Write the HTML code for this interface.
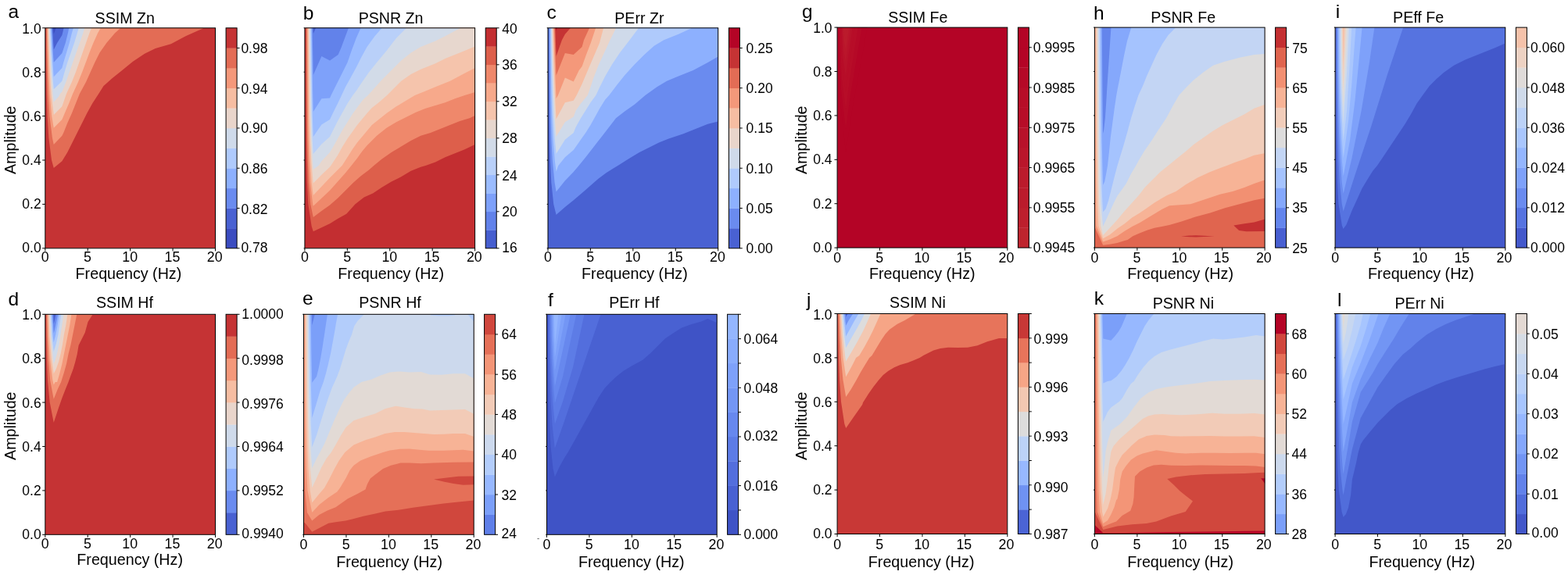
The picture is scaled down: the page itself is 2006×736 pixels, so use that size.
<!DOCTYPE html>
<html lang="en"><head><meta charset="utf-8"><title>Contour maps</title>
<style>html,body{margin:0;padding:0;background:#fff}body{width:2006px;height:736px;overflow:hidden}svg{display:block}text{font-family:"Liberation Sans", Arial, Helvetica, sans-serif;fill:#000}</style></head>
<body>
<svg width="2006" height="736" viewBox="0 0 2006 736">
<rect width="2006" height="736" fill="#fff"/>
<clipPath id="ca"><rect x="57.8" y="35.8" width="217.7" height="282"/></clipPath>
<g clip-path="url(#ca)" shape-rendering="geometricPrecision">
<rect x="57.8" y="35.8" width="217.7" height="282" fill="#c53334"/>
<path d="M58.82 33.8 L58.82 35.8 L59.02 64 L59.3 92.2 L59.75 120.4 L60.61 148.6 L62.39 176.8 L66.01 205 L68.75 215 L68.75 215 L79.38 206.25 L86.25 195 L92.5 182.5 L98.75 170 L105 157.5 L111.25 145 L118.12 132.5 L126.25 120 L132.5 110 L143.75 100 L156.25 90 L170 78.75 L185 68.75 L198.75 61.88 L218.75 56.25 L237.5 46.25 L260 36.25 L260 33.8Z" fill="#e36c55"/>
<path d="M59.84 33.8 L59.84 35.8 L60.25 64 L60.79 92.2 L61.7 120.4 L63.42 148.6 L66.98 176.8 L68.75 185 L68.75 185 L79.38 173.75 L81.25 170 L86.25 157.5 L91.88 145 L96.88 132.5 L101.88 120 L110 105 L115.62 92.5 L121.25 80 L127.5 67.5 L136.25 55 L146.88 42.5 L153.75 36.25 L153.75 33.8Z" fill="#f4987a"/>
<path d="M60.86 33.8 L60.86 35.8 L61.47 64 L62.29 92.2 L63.65 120.4 L66.23 148.6 L68.75 163.75 L68.75 163.75 L79.38 153.12 L82.75 145 L88.12 132.5 L93.12 120 L100 105 L105 92.5 L109.75 80 L114.38 67.5 L119.38 55 L125 42.5 L128.5 36.25 L128.5 33.8Z" fill="#f6bda2"/>
<path d="M61.87 33.8 L61.87 35.8 L62.7 64 L63.79 92.2 L65.6 120.4 L68.75 146.88 L68.75 146.88 L79.38 136.25 L85 120 L91.88 105 L96.88 92.5 L101.25 80 L105.62 67.5 L110 55 L114.38 42.5 L116.88 36.25 L116.88 33.8Z" fill="#e9d5cb"/>
<path d="M62.89 33.8 L62.89 35.8 L63.92 64 L65.28 92.2 L67.55 120.4 L68.75 130.63 L68.75 130.62 L75 123.75 L76.88 120 L79.38 117.5 L84.38 105 L88.75 92.5 L93.12 80 L97.5 67.5 L101.88 55 L106.25 42.5 L108.12 36.25 L108.12 33.8Z" fill="#cfdaea"/>
<path d="M63.91 33.8 L63.91 35.8 L65.14 64 L66.78 92.2 L68.75 114 L69 114 L79.38 103.75 L82.5 92.5 L86.25 80 L90.62 67.5 L95 55 L98.75 42.5 L100.62 36.25 L100.62 33.8Z" fill="#afcafc"/>
<path d="M64.93 33.8 L64.93 35.8 L66.37 64 L68.28 92.2 L68.75 98.13 L69 98.12 L79.38 86.88 L81.25 80 L85 67.5 L88.75 55 L91.88 42.5 L93.75 36.25 L93.75 33.8Z" fill="#8db0fe"/>
<path d="M65.95 33.8 L65.95 35.8 L67.59 64 L68.75 79.38 L69 79.38 L79.38 68.12 L83.75 55 L86.88 42.5 L88.12 36.25 L88.12 33.8Z" fill="#6a8bef"/>
<path d="M66.97 33.8 L66.97 35.8 L68.75 63.13 L69 63.12 L73.12 55 L79.38 45 L80 42.5 L81.5 36.25 L81.5 33.8Z" fill="#4961d2"/>
<path d="M67.99 33.8 L67.99 35.8 L68.75 43.6 L68.8 43.6 L71.6 35.8 L71.6 33.8Z" fill="#3b4cc0"/>
</g>
<rect x="57.8" y="35.8" width="217.7" height="282" fill="none" stroke="#000" stroke-width="1"/>
<path d="M57.8 317.8 v3.6 M112.22 317.8 v3.6 M166.65 317.8 v3.6 M221.07 317.8 v3.6 M275.5 317.8 v3.6 M57.8 317.8 h-3.6 M57.8 261.4 h-3.6 M57.8 205 h-3.6 M57.8 148.6 h-3.6 M57.8 92.2 h-3.6 M57.8 35.8 h-3.6" stroke="#000" stroke-width="1" fill="none"/>
<g font-size="17.8" text-anchor="middle">
<text x="57.8" y="335.4">0</text>
<text x="112.02" y="335.4">5</text>
<text x="166.25" y="335.4">10</text>
<text x="220.47" y="335.4">15</text>
<text x="274.7" y="335.4">20</text>
</g>
<g font-size="17.5" text-anchor="end">
<text x="52.7" y="323.4">0.0</text>
<text x="52.7" y="267.28">0.2</text>
<text x="52.7" y="211.16">0.4</text>
<text x="52.7" y="155.04">0.6</text>
<text x="52.7" y="98.92">0.8</text>
<text x="52.7" y="42.8">1.0</text>
</g>
<rect x="289.1" y="292.16" width="14" height="25.64" fill="#3b4cc0"/>
<rect x="289.1" y="266.53" width="14" height="25.94" fill="#4961d2"/>
<rect x="289.1" y="240.89" width="14" height="25.94" fill="#6a8bef"/>
<rect x="289.1" y="215.25" width="14" height="25.94" fill="#8db0fe"/>
<rect x="289.1" y="189.62" width="14" height="25.94" fill="#afcafc"/>
<rect x="289.1" y="163.98" width="14" height="25.94" fill="#cfdaea"/>
<rect x="289.1" y="138.35" width="14" height="25.94" fill="#e9d5cb"/>
<rect x="289.1" y="112.71" width="14" height="25.94" fill="#f6bda2"/>
<rect x="289.1" y="87.07" width="14" height="25.94" fill="#f4987a"/>
<rect x="289.1" y="61.44" width="14" height="25.94" fill="#e36c55"/>
<rect x="289.1" y="35.8" width="14" height="25.94" fill="#c53334"/>
<rect x="289.1" y="35.8" width="14" height="282" fill="none" stroke="#000" stroke-width="1"/>
<g font-size="17.5">
<text x="308.4" y="322.9">0.78</text>
<text x="308.4" y="273.83">0.82</text>
<text x="308.4" y="221.75">0.86</text>
<text x="308.4" y="170.48">0.90</text>
<text x="308.4" y="119.51">0.94</text>
<text x="308.4" y="68.34">0.98</text>
</g>
<path d="M303.1 317.8 h3.4 M303.1 266.53 h3.4 M303.1 215.25 h3.4 M303.1 163.98 h3.4 M303.1 112.71 h3.4 M303.1 61.44 h3.4" stroke="#000" stroke-width="1" fill="none"/>
<text x="121.6" y="29.5" font-size="19.6">SSIM Zn</text>
<text x="10.6" y="23" font-size="24.5">a</text>
<text x="96.6" y="357.4" font-size="19.7">Frequency (Hz)</text>
<text transform="translate(20.4 223) rotate(-90)" font-size="19.7">Amplitude</text>
<clipPath id="cb"><rect x="389.9" y="35.8" width="217.7" height="282"/></clipPath>
<g clip-path="url(#cb)" shape-rendering="geometricPrecision">
<rect x="389.9" y="35.8" width="217.7" height="282" fill="#c32e31"/>
<path d="M391.29 33.8 L391.29 35.8 L391.37 64 L391.44 92.2 L391.53 120.4 L391.64 148.6 L391.83 176.8 L392.19 205 L392.82 233.2 L394.33 261.4 L398.62 289.6 L400.75 296.25 L400.75 296.25 L411.38 291.25 L422 286.25 L432 280 L443.25 273.75 L454.5 261.25 L465.75 252.5 L477 247.5 L488.25 240 L500.75 232.5 L513.25 226.25 L525.75 218.75 L538.25 213.75 L544.5 211.88 L557 207.5 L569.5 201.25 L582 196.25 L594.5 191.25 L607.62 185 L609.6 185 L609.6 33.8Z" fill="#dd5f4b"/>
<path d="M392.21 33.8 L392.21 35.8 L392.34 64 L392.47 92.2 L392.62 120.4 L392.81 148.6 L393.12 176.8 L393.72 205 L394.77 233.2 L397.29 261.4 L400.75 278.12 L400.75 278.12 L411.38 270 L422 262.5 L432 253.75 L442 243.75 L452 233.75 L462 225 L472 217.5 L478.25 211.88 L488.25 203.75 L500.75 195 L513.25 187.5 L525.75 180 L538.25 173.75 L550.75 170 L563.25 165 L575.75 160 L588.25 155 L600.75 151.25 L607.62 148.12 L609.6 148.12 L609.6 33.8Z" fill="#ef886b"/>
<path d="M393.13 33.8 L393.13 35.8 L393.32 64 L393.49 92.2 L393.71 120.4 L393.97 148.6 L394.41 176.8 L395.25 205 L396.72 233.2 L400.24 261.4 L400.75 263.75 L400.75 263.75 L411.38 253.75 L422 243.75 L432 232.5 L442 221.25 L449.5 211.88 L457 202.5 L463.25 193.75 L469.5 186.25 L475.75 180 L482 173.75 L494.5 163.75 L507 156.25 L519.5 150 L532 143.75 L544.5 138.75 L557 135 L569.5 131.25 L582 126.25 L594.5 121.88 L607.62 118.12 L609.6 118.12 L609.6 33.8Z" fill="#f7a98b"/>
<path d="M394.06 33.8 L394.06 35.8 L394.3 64 L394.52 92.2 L394.79 120.4 L395.13 148.6 L395.7 176.8 L396.78 205 L398.67 233.2 L400.75 250 L400.75 250 L411.38 238.75 L422 227.5 L432 217.5 L437.62 211.88 L444.5 201.25 L450.75 191.25 L457 182.5 L463.25 175 L469.5 167.5 L475.75 160 L482 155 L494.5 145 L507 136.25 L519.5 128.75 L530.75 121.88 L542 117.5 L557 111.25 L575.75 103.75 L594.5 93.75 L607.62 86.88 L609.6 86.88 L609.6 33.8Z" fill="#f5c4ac"/>
<path d="M394.98 33.8 L394.98 35.8 L395.28 64 L395.55 92.2 L395.88 120.4 L396.3 148.6 L396.99 176.8 L398.31 205 L400.62 233.2 L400.75 234.38 L400.75 234.38 L411.38 223.75 L422 213.75 L423.25 211.88 L432 198.75 L438.25 187.5 L444.5 177.5 L450.75 168.75 L457 160 L463.25 152.5 L469.5 145 L475.75 138.12 L484.5 131.25 L495.12 121.88 L504.5 112.5 L513.25 103.75 L525.75 95 L538.25 88.75 L557 81.25 L569.5 75 L588.25 67.5 L607.62 59.38 L609.6 59.38 L609.6 33.8Z" fill="#e7d7ce"/>
<path d="M395.9 33.8 L395.9 35.8 L396.26 64 L396.58 92.2 L396.97 120.4 L397.46 148.6 L398.28 176.8 L399.84 205 L400.75 216.88 L400.75 216.88 L407.62 211.88 L411.38 206.25 L422 195 L425.75 188.75 L432 177.5 L438.25 166.25 L444.5 156.25 L450.75 146.25 L457 137.5 L464.5 127.5 L470.75 121.88 L477 115 L488.25 102.5 L500.75 90 L513.25 77.5 L525.75 67.5 L538.25 60 L557 52.5 L569.5 46.25 L588.25 36.25 L588.25 33.8Z" fill="#d2dbe8"/>
<path d="M396.83 33.8 L396.83 35.8 L397.23 64 L397.6 92.2 L398.06 120.4 L398.62 148.6 L399.57 176.8 L400.75 196.88 L400.75 196.88 L411.38 184.38 L422 175 L425.75 167.5 L432 155 L438.25 143.75 L444.5 132.5 L451.38 121.88 L455.75 116.25 L463.25 105 L472 92.5 L482 80 L494.5 65 L507 48.75 L519.5 36.25 L519.5 33.8Z" fill="#b9d0f9"/>
<path d="M397.75 33.8 L397.75 35.8 L398.21 64 L398.63 92.2 L399.14 120.4 L399.79 148.6 L400.75 175 L400.75 175 L411.38 159.38 L422 153.12 L425.75 145 L432 132.5 L437 121.88 L442 111.25 L448.25 100 L455.75 86.25 L462 73.75 L469.5 60 L479.5 46.25 L488.25 36.25 L488.25 33.8Z" fill="#9bbcff"/>
<path d="M398.67 33.8 L398.67 35.8 L399.19 64 L399.66 92.2 L400.23 120.4 L400.75 143.12 L400.75 143.12 L411.38 126.25 L422 125.62 L423.88 121.25 L432 105 L438.25 92.5 L444.5 80 L450.12 63.75 L455.75 48.75 L461.38 36.25 L461.38 33.8Z" fill="#7ea1fa"/>
<path d="M399.6 33.8 L399.6 35.8 L400.17 64 L400.68 92.2 L400.75 95.63 L401 95.62 L411.38 71.88 L422 77.5 L432.62 70 L436.38 61.25 L445.75 36.25 L445.75 33.8Z" fill="#6282ea"/>
<path d="M400.52 33.8 L400.52 35.8 L400.75 42.5 L401 42.5 L404 35.8 L404 33.8Z" fill="#465ecf"/>
</g>
<rect x="389.9" y="35.8" width="217.7" height="282" fill="none" stroke="#000" stroke-width="1"/>
<path d="M389.9 317.8 v3.6 M444.32 317.8 v3.6 M498.75 317.8 v3.6 M553.17 317.8 v3.6 M607.6 317.8 v3.6 M389.9 317.8 h-1.3 M389.9 261.4 h-1.3 M389.9 205 h-1.3 M389.9 148.6 h-1.3 M389.9 92.2 h-1.3 M389.9 35.8 h-1.3" stroke="#000" stroke-width="1" fill="none"/>
<g font-size="17.8" text-anchor="middle">
<text x="389.9" y="335.4">0</text>
<text x="444.12" y="335.4">5</text>
<text x="498.35" y="335.4">10</text>
<text x="552.57" y="335.4">15</text>
<text x="606.8" y="335.4">20</text>
</g>
<rect x="621.2" y="294.3" width="14" height="23.5" fill="#465ecf"/>
<rect x="621.2" y="270.8" width="14" height="23.8" fill="#6282ea"/>
<rect x="621.2" y="247.3" width="14" height="23.8" fill="#7ea1fa"/>
<rect x="621.2" y="223.8" width="14" height="23.8" fill="#9bbcff"/>
<rect x="621.2" y="200.3" width="14" height="23.8" fill="#b9d0f9"/>
<rect x="621.2" y="176.8" width="14" height="23.8" fill="#d2dbe8"/>
<rect x="621.2" y="153.3" width="14" height="23.8" fill="#e7d7ce"/>
<rect x="621.2" y="129.8" width="14" height="23.8" fill="#f5c4ac"/>
<rect x="621.2" y="106.3" width="14" height="23.8" fill="#f7a98b"/>
<rect x="621.2" y="82.8" width="14" height="23.8" fill="#ef886b"/>
<rect x="621.2" y="59.3" width="14" height="23.8" fill="#dd5f4b"/>
<rect x="621.2" y="35.8" width="14" height="23.8" fill="#c32e31"/>
<rect x="621.2" y="35.8" width="14" height="282" fill="none" stroke="#000" stroke-width="1"/>
<g font-size="17.5">
<text x="642.3" y="323.2">16</text>
<text x="642.3" y="277.3">20</text>
<text x="642.3" y="231">24</text>
<text x="642.3" y="183.3">28</text>
<text x="642.3" y="136.3">32</text>
<text x="642.3" y="89.3">36</text>
<text x="642.3" y="43.3">40</text>
</g>
<path d="M635.2 317.8 h3.4 M635.2 270.8 h3.4 M635.2 223.8 h3.4 M635.2 176.8 h3.4 M635.2 129.8 h3.4 M635.2 82.8 h3.4 M635.2 35.8 h3.4" stroke="#000" stroke-width="1" fill="none"/>
<text x="458.7" y="29.5" font-size="19.6">PSNR Zn</text>
<text x="387.7" y="24.8" font-size="24.5">b</text>
<text x="432.3" y="357.4" font-size="19.7">Frequency (Hz)</text>
<clipPath id="cc"><rect x="701" y="35.8" width="217.7" height="282"/></clipPath>
<g clip-path="url(#cc)" shape-rendering="geometricPrecision">
<rect x="701" y="35.8" width="217.7" height="282" fill="#4961d2"/>
<path d="M702.03 33.8 L702.03 35.8 L702.14 64 L702.29 92.2 L702.47 120.4 L702.72 148.6 L703.16 176.8 L703.91 205 L705.27 233.2 L708.25 261.4 L711.6 275 L711.5 275 L722.88 265 L733.75 256.25 L745.5 246.25 L755.5 237.5 L765.5 228.75 L775.5 221.25 L785.5 215 L790.5 211.88 L805.5 202.5 L818 195 L830.5 188.75 L843 182.5 L855.5 177.5 L874.25 171.25 L893 163.75 L905.5 158.75 L918.62 155.62 L920.7 155.62 L920.7 33.8Z" fill="#6a8bef"/>
<path d="M703.05 33.8 L703.05 35.8 L703.29 64 L703.59 92.2 L703.94 120.4 L704.45 148.6 L705.31 176.8 L706.81 205 L709.53 233.2 L711.6 245.62 L711.5 245.62 L722.88 231.25 L733.75 220 L740.5 211.88 L749.25 201.25 L758 190 L766.75 178.75 L775.5 167.5 L788 151.25 L799.25 142.5 L811.75 133.75 L825.5 121.88 L840.5 111.25 L853 103.75 L868 97.5 L886.75 90 L905.5 80 L918.62 72.5 L920.7 72.5 L920.7 33.8Z" fill="#8db0fe"/>
<path d="M704.08 33.8 L704.08 35.8 L704.43 64 L704.88 92.2 L705.42 120.4 L706.17 148.6 L707.47 176.8 L709.72 205 L711.6 220 L711.5 220 L714.25 211.88 L722.88 201.25 L733.75 191.88 L743 178.75 L749.25 170 L755.5 160 L761.75 148.75 L768 137.5 L774.25 127.5 L779.25 121.88 L789.25 108.75 L799.25 96.25 L811.75 82.5 L824.25 70 L836.75 58.75 L849.25 51.25 L868 43.75 L884.25 36.25 L884.25 33.8Z" fill="#afcafc"/>
<path d="M705.11 33.8 L705.11 35.8 L705.58 64 L706.18 92.2 L706.89 120.4 L707.9 148.6 L709.62 176.8 L711.6 196.88 L711.5 196.88 L722.88 178.75 L733.75 170 L736.75 162.5 L743 151.25 L749.25 141.25 L755.5 131.25 L762.38 121.88 L766.75 112.5 L774.25 97.5 L783 82.5 L793 67.5 L805.5 51.25 L816.75 36.25 L816.75 33.8Z" fill="#cfdaea"/>
<path d="M706.14 33.8 L706.14 35.8 L706.72 64 L707.47 92.2 L708.36 120.4 L709.62 148.6 L711.6 175 L711.5 175 L722.88 156.25 L733.75 149.38 L736.75 141.25 L743 132.5 L751.75 121.88 L754.25 115 L759.25 100 L765.5 83.75 L773 67.5 L780.5 51.25 L788 36.25 L788 33.8Z" fill="#e9d5cb"/>
<path d="M707.16 33.8 L707.16 35.8 L707.87 64 L708.76 92.2 L709.83 120.4 L711.34 148.6 L711.6 152.5 L711.5 152.5 L722.88 131.25 L733.75 128.75 L737.62 121.88 L744.62 107.5 L752 90 L759.5 72.5 L767 55 L772 36.25 L772 33.8Z" fill="#f6bda2"/>
<path d="M708.19 33.8 L708.19 35.8 L709.01 64 L710.06 92.2 L711.31 120.4 L711.6 126.25 L711.5 126.25 L713.88 121.88 L722.88 99.38 L733.75 104.38 L740.75 90 L744.62 85 L749.5 71.25 L755.75 55 L762 36.25 L762 33.8Z" fill="#f4987a"/>
<path d="M709.22 33.8 L709.22 35.8 L710.16 64 L711.35 92.2 L711.6 96.88 L711.38 96.88 L722.88 68.12 L733.75 70 L744.62 60 L747 51.25 L753.88 36.25 L753.88 33.8Z" fill="#e36c55"/>
<path d="M710.24 33.8 L710.24 35.8 L711.3 64 L711.6 72.5 L711.38 72.5 L718.88 51.25 L722.88 43.75 L729.5 36.25 L729.5 33.8Z" fill="#c53334"/>
<path d="M711.27 33.8 L711.27 35.8 L711.6 40 L711.38 40 L712.62 35.62 L712.62 33.8Z" fill="#b40426"/>
</g>
<rect x="701" y="35.8" width="217.7" height="282" fill="none" stroke="#000" stroke-width="1"/>
<path d="M701 317.8 v3.6 M755.42 317.8 v3.6 M809.85 317.8 v3.6 M864.28 317.8 v3.6 M918.7 317.8 v3.6 M701 317.8 h-1.3 M701 261.4 h-1.3 M701 205 h-1.3 M701 148.6 h-1.3 M701 92.2 h-1.3 M701 35.8 h-1.3" stroke="#000" stroke-width="1" fill="none"/>
<g font-size="17.8" text-anchor="middle">
<text x="701" y="335.4">0</text>
<text x="755.22" y="335.4">5</text>
<text x="809.45" y="335.4">10</text>
<text x="863.68" y="335.4">15</text>
<text x="917.9" y="335.4">20</text>
</g>
<rect x="932.4" y="292.16" width="14" height="25.64" fill="#4961d2"/>
<rect x="932.4" y="266.53" width="14" height="25.94" fill="#6a8bef"/>
<rect x="932.4" y="240.89" width="14" height="25.94" fill="#8db0fe"/>
<rect x="932.4" y="215.25" width="14" height="25.94" fill="#afcafc"/>
<rect x="932.4" y="189.62" width="14" height="25.94" fill="#cfdaea"/>
<rect x="932.4" y="163.98" width="14" height="25.94" fill="#e9d5cb"/>
<rect x="932.4" y="138.35" width="14" height="25.94" fill="#f6bda2"/>
<rect x="932.4" y="112.71" width="14" height="25.94" fill="#f4987a"/>
<rect x="932.4" y="87.07" width="14" height="25.94" fill="#e36c55"/>
<rect x="932.4" y="61.44" width="14" height="25.94" fill="#c53334"/>
<rect x="932.4" y="35.8" width="14" height="25.94" fill="#b40426"/>
<rect x="932.4" y="35.8" width="14" height="282" fill="none" stroke="#000" stroke-width="1"/>
<g font-size="17.5">
<text x="954.6" y="324.3">0.00</text>
<text x="954.6" y="273.03">0.05</text>
<text x="954.6" y="221.75">0.10</text>
<text x="954.6" y="170.48">0.15</text>
<text x="954.6" y="119.21">0.20</text>
<text x="954.6" y="67.94">0.25</text>
</g>
<path d="M946.4 317.8 h3.4 M946.4 266.53 h3.4 M946.4 215.25 h3.4 M946.4 163.98 h3.4 M946.4 112.71 h3.4 M946.4 61.44 h3.4" stroke="#000" stroke-width="1" fill="none"/>
<text x="786.3" y="29.9" font-size="19.6">PErr Zr</text>
<text x="699.5" y="23.9" font-size="24.5">c</text>
<text x="744.1" y="357.4" font-size="19.7">Frequency (Hz)</text>
<clipPath id="cg"><rect x="1071.1" y="35.1" width="217.7" height="282"/></clipPath>
<g clip-path="url(#cg)" shape-rendering="geometricPrecision">
<rect x="1071.1" y="35.1" width="217.7" height="282" fill="#b40426"/>
<path d="M1072 33.1 L1075 131.04 L1082 195 L1090.4 139.03 L1110 33.1Z" fill="#b40426"/>
<path d="M1073.2 33.1 L1075.84 113.04 L1082 165 L1088.3 119.53 L1103 33.1Z" fill="#b50927"/>
<path d="M1074.4 33.1 L1076.68 98.04 L1082 140 L1086.8 103.28 L1098 33.1Z" fill="#b70d28"/>
<path d="M1075.5 33.1 L1077.45 84.84 L1082 118 L1085.6 88.98 L1094 33.1Z" fill="#b70d28"/>
<path d="M1076.6 33.1 L1078.22 72.84 L1082 98 L1084.7 75.98 L1091 33.1Z" fill="#b8122a"/>
<path d="M1077.6 33.1 L1078.92 62.04 L1082 80 L1083.95 64.28 L1088.5 33.1Z" fill="#ba162b"/>
<path d="M1078.6 33.1 L1079.62 52.44 L1082 64 L1083.35 53.89 L1086.5 33.1Z" fill="#bb1b2c"/>
<path d="M1079.6 33.1 L1080.32 44.04 L1082 50 L1082.9 44.79 L1085 33.1Z" fill="#bb1b2c"/>
</g>
<rect x="1071.1" y="35.1" width="217.7" height="282" fill="none" stroke="#000" stroke-width="1"/>
<path d="M1071.1 317.1 v3.6 M1125.52 317.1 v3.6 M1179.95 317.1 v3.6 M1234.38 317.1 v3.6 M1288.8 317.1 v3.6 M1071.1 317.1 h-3.6 M1071.1 260.7 h-3.6 M1071.1 204.3 h-3.6 M1071.1 147.9 h-3.6 M1071.1 91.5 h-3.6 M1071.1 35.1 h-3.6" stroke="#000" stroke-width="1" fill="none"/>
<g font-size="17.8" text-anchor="middle">
<text x="1071.1" y="335.8">0</text>
<text x="1125.19" y="335.8">5</text>
<text x="1179.29" y="335.8">10</text>
<text x="1233.38" y="335.8">15</text>
<text x="1287.48" y="335.8">20</text>
</g>
<g font-size="17.5" text-anchor="end">
<text x="1064.6" y="322.7">0.0</text>
<text x="1064.6" y="266.58">0.2</text>
<text x="1064.6" y="210.46">0.4</text>
<text x="1064.6" y="154.34">0.6</text>
<text x="1064.6" y="98.22">0.8</text>
<text x="1064.6" y="42.1">1.0</text>
</g>
<rect x="1302.4" y="291.46" width="14" height="25.64" fill="#be242e"/>
<rect x="1302.4" y="265.83" width="14" height="25.94" fill="#bd1f2d"/>
<rect x="1302.4" y="240.19" width="14" height="25.94" fill="#bb1b2c"/>
<rect x="1302.4" y="214.55" width="14" height="25.94" fill="#bb1b2c"/>
<rect x="1302.4" y="188.92" width="14" height="25.94" fill="#ba162b"/>
<rect x="1302.4" y="163.28" width="14" height="25.94" fill="#b8122a"/>
<rect x="1302.4" y="137.65" width="14" height="25.94" fill="#b70d28"/>
<rect x="1302.4" y="112.01" width="14" height="25.94" fill="#b70d28"/>
<rect x="1302.4" y="86.37" width="14" height="25.94" fill="#b50927"/>
<rect x="1302.4" y="60.74" width="14" height="25.94" fill="#b40426"/>
<rect x="1302.4" y="35.1" width="14" height="25.94" fill="#b40426"/>
<rect x="1302.4" y="35.1" width="14" height="282" fill="none" stroke="#000" stroke-width="1"/>
<g font-size="17.5">
<text x="1321.8" y="322.9">0.9945</text>
<text x="1321.8" y="272.33">0.9955</text>
<text x="1321.8" y="221.05">0.9965</text>
<text x="1321.8" y="169.78">0.9975</text>
<text x="1321.8" y="118.51">0.9985</text>
<text x="1321.8" y="67.24">0.9995</text>
</g>
<path d="M1316.4 317.1 h3.4 M1316.4 265.83 h3.4 M1316.4 214.55 h3.4 M1316.4 163.28 h3.4 M1316.4 112.01 h3.4 M1316.4 60.74 h3.4" stroke="#000" stroke-width="1" fill="none"/>
<text x="1136.2" y="28.5" font-size="19.6">SSIM Fe</text>
<text x="1025.9" y="22.6" font-size="24.5">g</text>
<text x="1112" y="356.9" font-size="19.7">Frequency (Hz)</text>
<text transform="translate(1032 223) rotate(-90)" font-size="19.7">Amplitude</text>
<clipPath id="ch"><rect x="1400.4" y="35.1" width="217.7" height="282"/></clipPath>
<g clip-path="url(#ch)" shape-rendering="geometricPrecision">
<rect x="1400.4" y="35.1" width="217.7" height="282" fill="#e0654f"/>
<path d="M1397.19 33.1 L1397.19 35.1 L1400.4 290.26 L1411.1 313.75 L1411.22 313.75 L1419.79 312.8 L1429.3 310.89 L1438.82 308.04 L1442.62 307.09 L1449.28 302.33 L1457.85 298.53 L1467.36 294.72 L1476.88 291.86 L1486.39 289.96 L1496 288.06 L1510.75 283.75 L1529.5 277.5 L1548.25 272.5 L1567 266.25 L1585.75 261.25 L1604.5 256.25 L1617.62 253.75 L1620.1 253.75 L1620.1 33.1Z" fill="#f29072"/>
<path d="M1400.7 33.1 L1400.7 35.1 L1400.81 63.3 L1400.91 91.5 L1401.02 119.7 L1401.14 147.9 L1401.27 176.1 L1401.43 204.3 L1401.62 232.5 L1401.92 260.7 L1402.59 288.9 L1411.1 309.47 L1411.22 309.47 L1419.79 306.61 L1429.3 302.33 L1438.82 295.67 L1448.33 289.96 L1457.85 285.2 L1467.36 279.5 L1476.88 273.79 L1486.39 268.08 L1496 263.32 L1523.25 261.25 L1542 255 L1560.75 248.75 L1577 245 L1592 240 L1604.5 235 L1617.62 230.62 L1620.1 230.62 L1620.1 33.1Z" fill="#f7b396"/>
<path d="M1402.21 33.1 L1402.21 35.1 L1402.34 63.3 L1402.47 91.5 L1402.61 119.7 L1402.76 147.9 L1402.93 176.1 L1403.19 204.3 L1403.49 232.5 L1404.05 260.7 L1405.4 288.9 L1411.1 305.19 L1411.22 305.19 L1419.79 300.43 L1429.3 292.82 L1438.82 286.16 L1448.33 278.54 L1457.85 272.84 L1467.36 266.18 L1476.88 259.51 L1486.39 253.81 L1493.05 250 L1504.5 245 L1517 236.25 L1532 227.5 L1548.25 220 L1564.5 213.75 L1569.5 211.88 L1579.5 208.12 L1592 203.75 L1604.5 198.75 L1617.62 196.25 L1620.1 196.25 L1620.1 33.1Z" fill="#f1cdba"/>
<path d="M1403.72 33.1 L1403.72 35.1 L1403.87 63.3 L1404.03 91.5 L1404.2 119.7 L1404.38 147.9 L1404.59 176.1 L1404.95 204.3 L1405.36 232.5 L1406.19 260.7 L1408.2 288.9 L1411.1 300.9 L1411.22 300.9 L1419.79 291.86 L1429.3 281.4 L1438.82 269.98 L1448.33 259.51 L1456.89 250 L1464.5 240 L1474.5 230 L1484.5 220 L1494.5 211.88 L1504.5 203.75 L1517 193.75 L1527 185 L1539.5 176.25 L1552 167.5 L1564.5 160 L1577 153.75 L1592 146.25 L1604.5 138.75 L1617.62 134 L1620.1 134 L1620.1 33.1Z" fill="#dddcdc"/>
<path d="M1405.22 33.1 L1405.22 35.1 L1405.41 63.3 L1405.6 91.5 L1405.79 119.7 L1406 147.9 L1406.24 176.1 L1406.71 204.3 L1407.23 232.5 L1408.32 260.7 L1411.01 288.9 L1411.1 289.49 L1411.22 289.49 L1415.03 281.4 L1419.79 270.93 L1424.54 260.47 L1429.3 250.95 L1440.75 235 L1447 222.5 L1453.25 211.88 L1457 205 L1464.5 192.5 L1473.25 180 L1482 166.25 L1492 151.25 L1500.75 135 L1508.25 121.88 L1517 112.5 L1527 102.5 L1539.5 92.5 L1552 83.75 L1567 78.75 L1585.75 73.75 L1604.5 70 L1617.62 69 L1620.1 69 L1620.1 33.1Z" fill="#c3d5f4"/>
<path d="M1406.73 33.1 L1406.73 35.1 L1406.94 63.3 L1407.16 91.5 L1407.38 119.7 L1407.61 147.9 L1407.9 176.1 L1408.47 204.3 L1409.1 232.5 L1410.45 260.7 L1411.1 271.25 L1411 271.25 L1414.5 267.5 L1418.25 256.25 L1422 241.25 L1425.75 226.25 L1429.5 211.88 L1432 203.75 L1437 187.5 L1442 170 L1447 151.25 L1452 135 L1456.38 121.88 L1462 110 L1467 97.5 L1473.25 83.75 L1479.5 70 L1487 56.25 L1494.5 45 L1503.25 36.25 L1503.25 33.1Z" fill="#a5c3fe"/>
<path d="M1408.24 33.1 L1408.24 35.1 L1408.47 63.3 L1408.72 91.5 L1408.97 119.7 L1409.23 147.9 L1409.56 176.1 L1410.23 204.3 L1410.98 232.5 L1411.1 236.88 L1411 236.88 L1413.25 232.5 L1415.12 222.5 L1417 211.88 L1418.88 195 L1420.75 176.25 L1423.25 157.5 L1425.75 138.75 L1428.25 121.88 L1429.5 115 L1432 102.5 L1435.12 86.25 L1438.25 70 L1442 52.5 L1447 36.25 L1447 33.1Z" fill="#85a8fc"/>
<path d="M1409.74 33.1 L1409.74 35.1 L1410.01 63.3 L1410.28 91.5 L1410.56 119.7 L1410.85 147.9 L1411.1 171.25 L1411 171.25 L1412 167.5 L1413.88 151.25 L1415.12 132.5 L1415.75 121.88 L1416.38 111.25 L1417.62 92.5 L1418.88 73.75 L1420.12 55 L1421.38 36.25 L1421.38 33.1Z" fill="#6485ec"/>
<path d="M1618.25 280.62 L1604.5 284.38 L1592 286.25 L1578.25 288.5 L1585.12 295 L1594.5 296.25 L1618.25 296Z" fill="#c43032"/>
<path d="M1511 302.4 L1522 301.6 L1530 301.3 L1540 301.8 L1554 302.4 L1540 303 L1530 303.5 L1522 303.2Z" fill="#c43032"/>
</g>
<rect x="1400.4" y="35.1" width="217.7" height="282" fill="none" stroke="#000" stroke-width="1"/>
<path d="M1400.4 317.1 v3.6 M1454.83 317.1 v3.6 M1509.25 317.1 v3.6 M1563.68 317.1 v3.6 M1618.1 317.1 v3.6 M1400.4 317.1 h-1.3 M1400.4 260.7 h-1.3 M1400.4 204.3 h-1.3 M1400.4 147.9 h-1.3 M1400.4 91.5 h-1.3 M1400.4 35.1 h-1.3" stroke="#000" stroke-width="1" fill="none"/>
<g font-size="17.8" text-anchor="middle">
<text x="1400.4" y="335.8">0</text>
<text x="1454.5" y="335.8">5</text>
<text x="1508.59" y="335.8">10</text>
<text x="1562.69" y="335.8">15</text>
<text x="1616.78" y="335.8">20</text>
</g>
<rect x="1631.6" y="291.46" width="14" height="25.64" fill="#485fd1"/>
<rect x="1631.6" y="265.83" width="14" height="25.94" fill="#6485ec"/>
<rect x="1631.6" y="240.19" width="14" height="25.94" fill="#85a8fc"/>
<rect x="1631.6" y="214.55" width="14" height="25.94" fill="#a5c3fe"/>
<rect x="1631.6" y="188.92" width="14" height="25.94" fill="#c3d5f4"/>
<rect x="1631.6" y="163.28" width="14" height="25.94" fill="#dddcdc"/>
<rect x="1631.6" y="137.65" width="14" height="25.94" fill="#f1cdba"/>
<rect x="1631.6" y="112.01" width="14" height="25.94" fill="#f7b396"/>
<rect x="1631.6" y="86.37" width="14" height="25.94" fill="#f29072"/>
<rect x="1631.6" y="60.74" width="14" height="25.94" fill="#e0654f"/>
<rect x="1631.6" y="35.1" width="14" height="25.94" fill="#c43032"/>
<rect x="1631.6" y="35.1" width="14" height="282" fill="none" stroke="#000" stroke-width="1"/>
<g font-size="17.5">
<text x="1653.2" y="323.6">25</text>
<text x="1653.2" y="272.33">35</text>
<text x="1653.2" y="221.05">45</text>
<text x="1653.2" y="169.78">55</text>
<text x="1653.2" y="118.91">65</text>
<text x="1653.2" y="68.04">75</text>
</g>
<path d="M1645.6 317.1 h3.4 M1645.6 265.83 h3.4 M1645.6 214.55 h3.4 M1645.6 163.28 h3.4 M1645.6 112.01 h3.4 M1645.6 60.74 h3.4" stroke="#000" stroke-width="1" fill="none"/>
<text x="1472.3" y="28.5" font-size="19.6">PSNR Fe</text>
<text x="1398.9" y="24.9" font-size="24.5">h</text>
<text x="1442.3" y="356.9" font-size="19.7">Frequency (Hz)</text>
<clipPath id="ci"><rect x="1708.1" y="35.1" width="217.7" height="282"/></clipPath>
<g clip-path="url(#ci)" shape-rendering="geometricPrecision">
<rect x="1708.1" y="35.1" width="217.7" height="282" fill="#4358cb"/>
<path d="M1709.06 33.1 L1709.06 35.1 L1709.11 63.3 L1709.17 91.5 L1709.29 119.7 L1709.5 147.9 L1709.8 176.1 L1710.23 204.3 L1710.94 232.5 L1712.4 260.7 L1716.94 288.9 L1718.6 293.12 L1718.5 293.12 L1722.5 287.5 L1729.38 270 L1736.25 255 L1742.5 241.25 L1750 228.75 L1756.25 218.75 L1761.88 211.88 L1767.5 203.75 L1775 192.5 L1782.5 181.25 L1790 170 L1797.5 158.75 L1805 146.25 L1812.5 132.5 L1820 121.88 L1828.75 110 L1837.5 101.25 L1847.5 92.5 L1860 83.75 L1875 76.25 L1893.75 68.75 L1912.5 61.25 L1925.62 55.62 L1927.8 55.62 L1927.8 33.1Z" fill="#5673e0"/>
<path d="M1710.02 33.1 L1710.02 35.1 L1710.11 63.3 L1710.23 91.5 L1710.49 119.7 L1710.9 147.9 L1711.5 176.1 L1712.37 204.3 L1713.79 232.5 L1716.71 260.7 L1718.6 270.6 L1718.6 270.6 L1733.5 224 L1754.2 161.8 L1774.9 95.5 L1795.2 35.1 L1795.2 33.1Z" fill="#6a8bef"/>
<path d="M1710.99 33.1 L1710.99 35.1 L1711.12 63.3 L1711.3 91.5 L1711.68 119.7 L1712.3 147.9 L1713.2 176.1 L1714.5 204.3 L1716.63 232.5 L1718.6 248.1 L1718.6 248.1 L1729.3 203.3 L1741.75 141.1 L1752.1 78.9 L1758.4 35.1 L1758.4 33.1Z" fill="#7ea1fa"/>
<path d="M1711.95 33.1 L1711.95 35.1 L1712.13 63.3 L1712.36 91.5 L1712.88 119.7 L1713.7 147.9 L1714.9 176.1 L1716.63 204.3 L1718.6 225.6 L1718.6 225.6 L1727.2 178.4 L1733.5 128.6 L1738.4 78.9 L1742.6 35.1 L1742.6 33.1Z" fill="#94b6ff"/>
<path d="M1712.91 33.1 L1712.91 35.1 L1713.14 63.3 L1713.43 91.5 L1714.07 119.7 L1715.1 147.9 L1716.6 176.1 L1718.6 202.5 L1718.6 202.5 L1725.2 153.5 L1729.3 107.9 L1732.2 66.5 L1734.6 35.1 L1734.6 33.1Z" fill="#a9c6fd"/>
<path d="M1713.87 33.1 L1713.87 35.1 L1714.14 63.3 L1714.49 91.5 L1715.26 119.7 L1716.49 147.9 L1718.3 176.1 L1718.6 180 L1718.6 180 L1723.1 141.1 L1726.4 87.2 L1729.2 35.1 L1729.2 33.1Z" fill="#bcd2f7"/>
<path d="M1714.83 33.1 L1714.83 35.1 L1715.15 63.3 L1715.56 91.5 L1716.46 119.7 L1717.89 147.9 L1718.6 158 L1718.6 158 L1723 95 L1726 35.1 L1726 33.1Z" fill="#cfdaea"/>
<path d="M1715.79 33.1 L1715.79 35.1 L1716.16 63.3 L1716.62 91.5 L1717.65 119.7 L1718.6 138 L1718.6 138 L1721.6 85 L1723.9 35.1 L1723.9 33.1Z" fill="#dfdbd9"/>
<path d="M1716.76 33.1 L1716.76 35.1 L1717.17 63.3 L1717.69 91.5 L1718.6 115 L1718.6 115 L1722.1 35.1 L1722.1 33.1Z" fill="#edd2c3"/>
<path d="M1717.72 33.1 L1717.72 35.1 L1718.17 63.3 L1718.6 87.5 L1718.6 87.5 L1720.3 35.1 L1720.3 33.1Z" fill="#f5c2aa"/>
</g>
<rect x="1708.1" y="35.1" width="217.7" height="282" fill="none" stroke="#000" stroke-width="1"/>
<path d="M1708.1 317.1 v3.6 M1762.52 317.1 v3.6 M1816.95 317.1 v3.6 M1871.38 317.1 v3.6 M1925.8 317.1 v3.6 M1708.1 317.1 h-1.3 M1708.1 260.7 h-1.3 M1708.1 204.3 h-1.3 M1708.1 147.9 h-1.3 M1708.1 91.5 h-1.3 M1708.1 35.1 h-1.3" stroke="#000" stroke-width="1" fill="none"/>
<g font-size="17.8" text-anchor="middle">
<text x="1708.1" y="335.8">0</text>
<text x="1762.19" y="335.8">5</text>
<text x="1816.29" y="335.8">10</text>
<text x="1870.38" y="335.8">15</text>
<text x="1924.48" y="335.8">20</text>
</g>
<rect x="1939.4" y="291.46" width="14" height="25.64" fill="#4358cb"/>
<rect x="1939.4" y="265.83" width="14" height="25.94" fill="#5673e0"/>
<rect x="1939.4" y="240.19" width="14" height="25.94" fill="#6a8bef"/>
<rect x="1939.4" y="214.55" width="14" height="25.94" fill="#7ea1fa"/>
<rect x="1939.4" y="188.92" width="14" height="25.94" fill="#94b6ff"/>
<rect x="1939.4" y="163.28" width="14" height="25.94" fill="#a9c6fd"/>
<rect x="1939.4" y="137.65" width="14" height="25.94" fill="#bcd2f7"/>
<rect x="1939.4" y="112.01" width="14" height="25.94" fill="#cfdaea"/>
<rect x="1939.4" y="86.37" width="14" height="25.94" fill="#dfdbd9"/>
<rect x="1939.4" y="60.74" width="14" height="25.94" fill="#edd2c3"/>
<rect x="1939.4" y="35.1" width="14" height="25.94" fill="#f5c2aa"/>
<rect x="1939.4" y="35.1" width="14" height="282" fill="none" stroke="#000" stroke-width="1"/>
<g font-size="17.5">
<text x="1958.1" y="322.5">0.000</text>
<text x="1958.1" y="272.33">0.012</text>
<text x="1958.1" y="221.05">0.024</text>
<text x="1958.1" y="169.78">0.036</text>
<text x="1958.1" y="118.51">0.048</text>
<text x="1958.1" y="67.24">0.060</text>
</g>
<path d="M1953.4 317.1 h3.4 M1953.4 265.83 h3.4 M1953.4 214.55 h3.4 M1953.4 163.28 h3.4 M1953.4 112.01 h3.4 M1953.4 60.74 h3.4" stroke="#000" stroke-width="1" fill="none"/>
<text x="1782.1" y="28.5" font-size="19.6">PEff Fe</text>
<text x="1708.8" y="22.9" font-size="24.5">i</text>
<text x="1750.1" y="356.9" font-size="19.7">Frequency (Hz)</text>
<clipPath id="cd"><rect x="57.8" y="402.3" width="217.7" height="282"/></clipPath>
<g clip-path="url(#cd)" shape-rendering="geometricPrecision">
<rect x="57.8" y="402.3" width="217.7" height="282" fill="#c53334"/>
<path d="M58.96 400.3 L58.96 402.3 L59.22 430.5 L59.8 458.7 L61.01 486.9 L63.68 515.1 L68.7 540.75 L68.75 540.75 L75 522 L79.38 509.5 L83.75 498.25 L87.5 488.88 L90 482 L93.75 472 L96.25 463.25 L98.75 453.25 L100.62 442 L105 433.25 L108.75 425.75 L112.5 412 L118.12 403.25 L118.12 400.3Z" fill="#e36c55"/>
<path d="M60.12 400.3 L60.12 402.3 L60.65 430.5 L61.8 458.7 L64.22 486.9 L68.7 510.75 L68.75 510.75 L73.75 498.25 L78.12 488.88 L81.88 477 L85 465.75 L87.5 453.25 L90.62 440.75 L93.12 428.25 L95.62 415.75 L98.12 403.25 L98.12 400.3Z" fill="#f4987a"/>
<path d="M61.27 400.3 L61.27 402.3 L62.07 430.5 L63.8 458.7 L67.42 486.9 L68.7 492.62 L68.75 492.62 L70.62 488.88 L73.12 488.88 L76.25 478.25 L79.38 465.75 L81.88 453.25 L84.38 440.75 L86.88 428.25 L89.38 415.75 L91.25 403.25 L91.25 400.3Z" fill="#f6bda2"/>
<path d="M62.43 400.3 L62.43 402.3 L63.5 430.5 L65.8 458.7 L68.7 478.25 L68.75 478.25 L71.88 472 L75 463.25 L77.5 453.25 L80 440.75 L81.88 428.25 L84.38 415.75 L86.25 403.25 L86.25 400.3Z" fill="#e9d5cb"/>
<path d="M63.59 400.3 L63.59 402.3 L64.92 430.5 L67.8 458.7 L68.7 465.75 L68.75 465.75 L70.62 460.75 L73.12 452 L75.62 440.75 L77.5 428.25 L79.38 415.75 L81.25 403.25 L81.25 400.3Z" fill="#cfdaea"/>
<path d="M64.75 400.3 L64.75 402.3 L66.35 430.5 L68.7 450.12 L68.75 450.12 L71.88 439.5 L74.38 428.25 L76.25 415.75 L78.12 403.25 L78.12 400.3Z" fill="#afcafc"/>
<path d="M65.9 400.3 L65.9 402.3 L67.77 430.5 L68.7 438.25 L68.75 438.25 L71.25 428.25 L73.75 415.75 L75.62 403.25 L75.62 400.3Z" fill="#8db0fe"/>
<path d="M67.06 400.3 L67.06 402.3 L68.7 426.38 L68.75 426.38 L70 422 L71.88 413.25 L73.75 403.25 L73.75 400.3Z" fill="#6a8bef"/>
<path d="M68.22 400.3 L68.22 402.3 L68.7 414.5 L68.75 414.5 L70 409.5 L71.25 403.25 L71.25 400.3Z" fill="#4961d2"/>
</g>
<rect x="57.8" y="402.3" width="217.7" height="282" fill="none" stroke="#000" stroke-width="1"/>
<path d="M57.8 684.3 v3.6 M112.22 684.3 v3.6 M166.65 684.3 v3.6 M221.07 684.3 v3.6 M275.5 684.3 v3.6 M57.8 684.3 h-3.6 M57.8 627.9 h-3.6 M57.8 571.5 h-3.6 M57.8 515.1 h-3.6 M57.8 458.7 h-3.6 M57.8 402.3 h-3.6" stroke="#000" stroke-width="1" fill="none"/>
<g font-size="17.8" text-anchor="middle">
<text x="57.8" y="702.3">0</text>
<text x="112.02" y="702.3">5</text>
<text x="166.25" y="702.3">10</text>
<text x="220.47" y="702.3">15</text>
<text x="274.7" y="702.3">20</text>
</g>
<g font-size="17.5" text-anchor="end">
<text x="52.7" y="689.9">0.0</text>
<text x="52.7" y="633.78">0.2</text>
<text x="52.7" y="577.66">0.4</text>
<text x="52.7" y="521.54">0.6</text>
<text x="52.7" y="465.42">0.8</text>
<text x="52.7" y="409.3">1.0</text>
</g>
<rect x="289.1" y="656.1" width="14" height="28.2" fill="#4961d2"/>
<rect x="289.1" y="627.9" width="14" height="28.5" fill="#6a8bef"/>
<rect x="289.1" y="599.7" width="14" height="28.5" fill="#8db0fe"/>
<rect x="289.1" y="571.5" width="14" height="28.5" fill="#afcafc"/>
<rect x="289.1" y="543.3" width="14" height="28.5" fill="#cfdaea"/>
<rect x="289.1" y="515.1" width="14" height="28.5" fill="#e9d5cb"/>
<rect x="289.1" y="486.9" width="14" height="28.5" fill="#f6bda2"/>
<rect x="289.1" y="458.7" width="14" height="28.5" fill="#f4987a"/>
<rect x="289.1" y="430.5" width="14" height="28.5" fill="#e36c55"/>
<rect x="289.1" y="402.3" width="14" height="28.5" fill="#c53334"/>
<rect x="289.1" y="402.3" width="14" height="282" fill="none" stroke="#000" stroke-width="1"/>
<g font-size="17.5">
<text x="309.3" y="688.8">0.9940</text>
<text x="309.3" y="634.4">0.9952</text>
<text x="309.3" y="578">0.9964</text>
<text x="309.3" y="522.7">0.9976</text>
<text x="309.3" y="466.5">0.9998</text>
<text x="309.3" y="407.7">1.0000</text>
</g>
<path d="M303.1 684.3 h3.4 M303.1 627.9 h3.4 M303.1 571.5 h3.4 M303.1 515.1 h3.4 M303.1 458.7 h3.4 M303.1 402.3 h3.4" stroke="#000" stroke-width="1" fill="none"/>
<text x="123" y="393.9" font-size="19.6">SSIM Hf</text>
<text x="10.6" y="391.3" font-size="24.5">d</text>
<text x="98.3" y="723.4" font-size="19.7">Frequency (Hz)</text>
<text transform="translate(20.4 589) rotate(-90)" font-size="19.7">Amplitude</text>
<clipPath id="ce"><rect x="388.5" y="402.3" width="217.7" height="282"/></clipPath>
<g clip-path="url(#ce)" shape-rendering="geometricPrecision">
<rect x="388.5" y="402.3" width="217.7" height="282" fill="#d0473d"/>
<path d="M386.5 400.3 L386.5 667 L390.8 669.9 L399.22 680.64 L408.27 676.04 L420.28 669.68 L429.47 668.27 L442.19 666.5 L450.67 664.38 L464.81 660.85 L478.94 657.67 L493.07 654.49 L511.25 652.62 L530 649.5 L548.75 647 L567.5 644.5 L586.25 642.62 L606.5 640.5 L608.2 640.5 L608.2 400.3Z" fill="#e57058"/>
<path d="M385.29 400.3 L385.29 402.3 L388.5 470.63 L388.59 486.9 L388.76 515.1 L388.97 543.3 L389.23 571.5 L389.63 599.7 L390.32 627.9 L392.9 656.1 L399.2 666.5 L399.22 666.5 L408.27 659.08 L418.87 653.43 L429.47 649.19 L445 638.25 L457.5 632 L467.5 626.38 L470 619.5 L473.75 612.62 L480 607.62 L490 600.12 L500 595.75 L512.5 592.62 L523.75 592.38 L538.75 593.25 L555 592.62 L580 591.75 L606.5 591.38 L608.2 591.38 L608.2 400.3Z" fill="#f39577"/>
<path d="M389.5 400.3 L389.5 402.3 L389.69 430.5 L389.89 458.7 L390.1 486.9 L390.38 515.1 L390.74 543.3 L391.22 571.5 L392.04 599.7 L393.5 627.9 L399.2 655.75 L399.38 655.75 L408.75 645.75 L420 637 L431.25 629.5 L435 624.5 L442.5 612 L447.5 602 L452.5 595.75 L461.25 589.5 L473.75 584.5 L490 578.88 L498.75 576.38 L511.25 574.75 L523.75 574.5 L536.25 575.75 L548.75 576.75 L567.5 576.75 L592.5 575.75 L606.5 577.62 L608.2 577.62 L608.2 400.3Z" fill="#f7b396"/>
<path d="M390.84 400.3 L390.84 402.3 L391.09 430.5 L391.34 458.7 L391.6 486.9 L392.01 515.1 L392.52 543.3 L393.21 571.5 L394.46 599.7 L396.68 627.9 L399.2 643.25 L399.38 643.25 L407.5 633.25 L415 624.5 L421.25 613.25 L427.5 600.75 L433.75 589.5 L441.25 578.88 L452.5 569.5 L467.5 563.25 L480 559.5 L492.5 555.12 L505 553 L517.5 552.88 L530 553.88 L542.5 555.12 L555 556 L567.5 555.75 L580 555.12 L595 555.12 L606.5 558.88 L608.2 558.88 L608.2 400.3Z" fill="#f2cbb7"/>
<path d="M392.18 400.3 L392.18 402.3 L392.49 430.5 L392.79 458.7 L393.11 486.9 L393.63 515.1 L394.29 543.3 L395.2 571.5 L396.87 599.7 L399.2 623.88 L399.38 623.88 L405 612 L411.25 598.25 L417.5 587 L423.75 578.88 L430 568.25 L436.25 557 L442.5 547 L452.5 538.25 L467.5 533.25 L480 529.5 L492.5 523.25 L506.25 519.75 L517.5 521.38 L530 523.25 L540 523.5 L550 525.5 L565 525.12 L580 524.5 L595 524.12 L606.5 530.12 L608.2 530.12 L608.2 400.3Z" fill="#e2dad5"/>
<path d="M393.52 400.3 L393.52 402.3 L393.89 430.5 L394.24 458.7 L394.62 486.9 L395.25 515.1 L396.07 543.3 L397.18 571.5 L399.2 598.88 L399.38 598.88 L405 587 L409.38 578.88 L415 568.25 L421.25 553.25 L427.5 538.25 L433.75 524.5 L440 512 L446.25 503.25 L452.5 495.75 L462.5 488.88 L475 485.75 L486.25 480.75 L498.75 476.38 L511.25 475.5 L523.75 476.38 L538.75 476 L550 479.5 L565 479.75 L580 478.25 L595 478.25 L606.5 484.5 L608.2 484.5 L608.2 400.3Z" fill="#ccd9ed"/>
<path d="M394.85 400.3 L394.85 402.3 L395.29 430.5 L395.69 458.7 L396.13 486.9 L396.88 515.1 L397.84 543.3 L399.17 571.5 L399.2 572 L399.38 572 L405 557 L410 540.75 L415 524.5 L420 509.5 L425 495.75 L428.12 488.88 L431.25 482 L435 472 L438.75 459.5 L442.5 447 L446.25 437 L450 428.25 L453.12 417.62 L457.5 410.75 L465 403.25 L465 400.3Z" fill="#b3cdfb"/>
<path d="M396.19 400.3 L396.19 402.3 L396.68 430.5 L397.14 458.7 L397.64 486.9 L398.5 515.1 L399.2 534.5 L399.38 534.5 L405 515.75 L409.38 500.75 L413.75 488.88 L416.88 478.25 L420 465.75 L423.12 452 L425.62 438.25 L428.12 424.5 L430 413.25 L431.88 403.25 L431.88 400.3Z" fill="#97b8ff"/>
<path d="M397.53 400.3 L397.53 402.3 L398.08 430.5 L398.59 458.7 L399.15 486.9 L399.2 489.5 L399.38 489.5 L405 482 L407.5 472 L410 459.5 L412.5 444.5 L415 428.25 L416.88 415.75 L418.75 403.25 L418.75 400.3Z" fill="#7b9ff9"/>
<path d="M398.87 400.3 L398.87 402.3 L399.2 415.75 L399.38 415.75 L402.5 403.25 L402.5 400.3Z" fill="#5f7fe8"/>
<path d="M555 613.5 L567.5 612 L586.25 609.75 L608.75 609.5 L608.75 620.12 L592.5 620.75 L580 618.88 L567.5 616.38Z" fill="#d0473d"/>
<path d="M596.88 400.75 L608.75 400.75 L608.75 414.5Z" fill="#b3cdfb"/>
<path d="M550 400.3 L583 400.3 L582 403.6 L574 404.4 L562 404.4 L551 403.6Z" fill="#b3cdfb"/>
</g>
<rect x="388.5" y="402.3" width="217.7" height="282" fill="none" stroke="#000" stroke-width="1"/>
<path d="M388.5 684.3 v3.6 M442.93 684.3 v3.6 M497.35 684.3 v3.6 M551.78 684.3 v3.6 M606.2 684.3 v3.6 M388.5 684.3 h-1.3 M388.5 627.9 h-1.3 M388.5 571.5 h-1.3 M388.5 515.1 h-1.3 M388.5 458.7 h-1.3 M388.5 402.3 h-1.3" stroke="#000" stroke-width="1" fill="none"/>
<g font-size="17.8" text-anchor="middle">
<text x="388.5" y="702.9">0</text>
<text x="442.73" y="702.9">5</text>
<text x="496.95" y="702.9">10</text>
<text x="551.18" y="702.9">15</text>
<text x="605.4" y="702.9">20</text>
</g>
<rect x="619.6" y="658.66" width="14" height="25.64" fill="#5f7fe8"/>
<rect x="619.6" y="633.03" width="14" height="25.94" fill="#7b9ff9"/>
<rect x="619.6" y="607.39" width="14" height="25.94" fill="#97b8ff"/>
<rect x="619.6" y="581.75" width="14" height="25.94" fill="#b3cdfb"/>
<rect x="619.6" y="556.12" width="14" height="25.94" fill="#ccd9ed"/>
<rect x="619.6" y="530.48" width="14" height="25.94" fill="#e2dad5"/>
<rect x="619.6" y="504.85" width="14" height="25.94" fill="#f2cbb7"/>
<rect x="619.6" y="479.21" width="14" height="25.94" fill="#f7b396"/>
<rect x="619.6" y="453.57" width="14" height="25.94" fill="#f39577"/>
<rect x="619.6" y="427.94" width="14" height="25.94" fill="#e57058"/>
<rect x="619.6" y="402.3" width="14" height="25.94" fill="#d0473d"/>
<rect x="619.6" y="402.3" width="14" height="282" fill="none" stroke="#000" stroke-width="1"/>
<g font-size="17.5">
<text x="641.55" y="689">24</text>
<text x="641.55" y="639.53">32</text>
<text x="641.55" y="588.25">40</text>
<text x="641.55" y="536.98">48</text>
<text x="641.55" y="485.71">56</text>
<text x="641.55" y="434.44">64</text>
</g>
<path d="M633.6 684.3 h3.4 M633.6 633.03 h3.4 M633.6 581.75 h3.4 M633.6 530.48 h3.4 M633.6 479.21 h3.4 M633.6 427.94 h3.4" stroke="#000" stroke-width="1" fill="none"/>
<text x="459.3" y="393.9" font-size="19.6">PSNR Hf</text>
<text x="386.9" y="390.3" font-size="24.5">e</text>
<text x="430.3" y="726.4" font-size="19.7">Frequency (Hz)</text>
<clipPath id="cf"><rect x="699.5" y="402.3" width="217.7" height="282"/></clipPath>
<g clip-path="url(#cf)" shape-rendering="geometricPrecision">
<rect x="699.5" y="402.3" width="217.7" height="282" fill="#3f53c6"/>
<path d="M700.66 400.3 L700.66 402.3 L700.76 430.5 L701 458.7 L701.43 486.9 L702.07 515.1 L702.99 543.3 L704.53 571.5 L707.52 599.7 L709.9 610.75 L709.75 610.75 L716 597 L722.25 585.75 L726.62 578.88 L734.75 564.5 L741 553.25 L747.25 542 L753.5 530.75 L759.75 519.5 L766 508.25 L773.5 497 L781 488.88 L788.5 482 L797.25 475.12 L809.75 467.62 L822.25 460.75 L832.25 452 L841 443.25 L851 433.25 L862.25 425.75 L872.25 419.5 L884.75 415.12 L897.25 411.38 L905.38 408 L917.5 413.25 L919.2 413.25 L919.2 400.3Z" fill="#4961d2"/>
<path d="M701.83 400.3 L701.83 402.3 L702.02 430.5 L702.49 458.7 L703.37 486.9 L704.65 515.1 L706.47 543.3 L709.56 571.5 L709.9 573.6 L709.9 573.6 L721 542 L739 489 L755 442 L768.6 402.3 L768.6 400.3Z" fill="#536edd"/>
<path d="M702.99 400.3 L702.99 402.3 L703.28 430.5 L703.99 458.7 L705.3 486.9 L707.22 515.1 L709.9 542.8 L709.9 542.8 L720 514 L733 470 L747.5 402.3 L747.5 400.3Z" fill="#5d7ce6"/>
<path d="M704.15 400.3 L704.15 402.3 L704.53 430.5 L705.49 458.7 L707.23 486.9 L709.79 515.1 L709.9 516 L709.9 516 L720 482 L737.3 402.3 L737.3 400.3Z" fill="#6788ee"/>
<path d="M705.32 400.3 L705.32 402.3 L705.79 430.5 L706.99 458.7 L709.17 486.9 L709.9 494.5 L709.9 494.5 L729.8 402.3 L729.8 400.3Z" fill="#7396f5"/>
<path d="M706.48 400.3 L706.48 402.3 L707.05 430.5 L708.48 458.7 L709.9 474.5 L709.9 474.5 L723.6 402.3 L723.6 400.3Z" fill="#7ea1fa"/>
<path d="M707.65 400.3 L707.65 402.3 L708.31 430.5 L709.9 457.8 L709.9 457.8 L718.6 402.3 L718.6 400.3Z" fill="#89acfd"/>
<path d="M708.81 400.3 L708.81 402.3 L709.57 430.5 L709.9 441.5 L709.9 441.5 L714.4 402.3 L714.4 400.3Z" fill="#94b6ff"/>
</g>
<rect x="699.5" y="402.3" width="217.7" height="282" fill="none" stroke="#000" stroke-width="1"/>
<path d="M699.5 684.3 v3.6 M753.92 684.3 v3.6 M808.35 684.3 v3.6 M862.78 684.3 v3.6 M917.2 684.3 v3.6 M699.5 684.3 h-1.3 M699.5 627.9 h-1.3 M699.5 571.5 h-1.3 M699.5 515.1 h-1.3 M699.5 458.7 h-1.3 M699.5 402.3 h-1.3" stroke="#000" stroke-width="1" fill="none"/>
<g font-size="17.8" text-anchor="middle">
<text x="699.5" y="702.9">0</text>
<text x="753.72" y="702.9">5</text>
<text x="807.95" y="702.9">10</text>
<text x="862.18" y="702.9">15</text>
<text x="916.4" y="702.9">20</text>
</g>
<rect x="930.6" y="652.97" width="14" height="31.33" fill="#3f53c6"/>
<rect x="930.6" y="621.63" width="14" height="31.63" fill="#4961d2"/>
<rect x="930.6" y="590.3" width="14" height="31.63" fill="#536edd"/>
<rect x="930.6" y="558.97" width="14" height="31.63" fill="#5d7ce6"/>
<rect x="930.6" y="527.63" width="14" height="31.63" fill="#6788ee"/>
<rect x="930.6" y="496.3" width="14" height="31.63" fill="#7396f5"/>
<rect x="930.6" y="464.97" width="14" height="31.63" fill="#7ea1fa"/>
<rect x="930.6" y="433.63" width="14" height="31.63" fill="#89acfd"/>
<rect x="930.6" y="402.3" width="14" height="31.63" fill="#94b6ff"/>
<rect x="930.6" y="402.3" width="14" height="282" fill="none" stroke="#000" stroke-width="1"/>
<g font-size="17.5">
<text x="951.55" y="689.8">0.000</text>
<text x="951.55" y="628.13">0.016</text>
<text x="951.55" y="564.37">0.032</text>
<text x="951.55" y="502.8">0.048</text>
<text x="951.55" y="440.13">0.064</text>
</g>
<path d="M944.6 684.3 h3.4 M944.6 652.97 h3.4 M944.6 621.63 h3.4 M944.6 590.3 h3.4 M944.6 558.97 h3.4 M944.6 527.63 h3.4 M944.6 496.3 h3.4 M944.6 464.97 h3.4 M944.6 433.63 h3.4 M944.6 402.3 h3.4" stroke="#000" stroke-width="1" fill="none"/>
<text x="779.3" y="393.9" font-size="19.6">PErr Hf</text>
<text x="700.9" y="391.9" font-size="24.5">f</text>
<text x="739.9" y="726.4" font-size="19.7">Frequency (Hz)</text>
<path d="M687.4 689.6h2.4" stroke="#666" stroke-width="1" fill="none"/>
<clipPath id="cj"><rect x="1071.1" y="401.5" width="217.7" height="282"/></clipPath>
<g clip-path="url(#cj)" shape-rendering="geometricPrecision">
<rect x="1071.1" y="401.5" width="217.7" height="282" fill="#c83836"/>
<path d="M1072.03 399.5 L1072.03 401.5 L1072.39 429.7 L1072.97 457.9 L1074.04 486.1 L1076.01 514.3 L1080.31 542.5 L1082.2 547.97 L1082.27 547.97 L1091.79 534.18 L1103.2 518 L1104.16 515.09 L1110.82 504.62 L1117.48 495.11 L1124.14 486.54 L1129.85 479.88 L1136.51 474.65 L1144.12 470.37 L1151.73 467.04 L1161.24 464.18 L1168.86 461.33 L1176.47 458 L1181.75 454.75 L1194.25 448.5 L1203 446 L1213 444.75 L1225.5 445 L1238 444.75 L1250.5 442.25 L1263 437.25 L1278 432.88 L1288.62 432.88 L1290.8 432.88 L1290.8 399.5Z" fill="#e7745b"/>
<path d="M1073.42 399.5 L1073.42 401.5 L1074.32 429.7 L1075.79 457.9 L1078.45 486.1 L1082.2 507.95 L1082.27 507.95 L1088.93 497.96 L1095.59 486.54 L1101.3 476.08 L1107.01 466.56 L1112.24 458 L1115.57 455.09 L1121.28 445.57 L1126.99 436.06 L1132.7 427.5 L1138.03 421.79 L1148 414.75 L1158 409.75 L1170.5 402.25 L1170.5 399.5Z" fill="#f6a586"/>
<path d="M1074.82 399.5 L1074.82 401.5 L1076.25 429.7 L1078.6 457.9 L1082.2 482.26 L1082.27 482.26 L1087.03 473.7 L1091.79 464.66 L1095.12 458 L1099.4 455.09 L1106.06 443.67 L1111.77 433.2 L1116.53 423.69 L1121.28 413.22 L1126.52 401.62 L1126.52 399.5Z" fill="#f3c8b2"/>
<path d="M1076.21 399.5 L1076.21 401.5 L1078.18 429.7 L1081.41 457.9 L1082.2 462.7 L1082.08 462.7 L1088.93 451.28 L1096.54 437.96 L1104.16 423.69 L1109.86 411.32 L1114.15 401.62 L1114.15 399.5Z" fill="#dddcdc"/>
<path d="M1077.6 399.5 L1077.6 401.5 L1080.11 429.7 L1082.2 445.57 L1082.08 445.57 L1088.93 433.2 L1096.54 419.88 L1102.25 409.42 L1106.06 401.62 L1106.06 399.5Z" fill="#bcd2f7"/>
<path d="M1079 399.5 L1079 401.5 L1082.04 429.7 L1082.2 430.83 L1082.08 430.83 L1087.03 421.79 L1092.74 411.32 L1098.45 401.62 L1098.45 399.5Z" fill="#97b8ff"/>
<path d="M1080.39 399.5 L1080.39 401.5 L1082.2 417.03 L1082.08 417.03 L1086.08 409.42 L1091.31 401.62 L1091.31 399.5Z" fill="#6f92f3"/>
<path d="M1081.78 399.5 L1081.78 401.5 L1082.2 405.61 L1082.27 405.61 L1084.65 401.62 L1084.65 399.5Z" fill="#4b64d5"/>
</g>
<rect x="1071.1" y="401.5" width="217.7" height="282" fill="none" stroke="#000" stroke-width="1"/>
<path d="M1071.1 683.5 v3.6 M1125.52 683.5 v3.6 M1179.95 683.5 v3.6 M1234.38 683.5 v3.6 M1288.8 683.5 v3.6 M1071.1 683.5 h-3.6 M1071.1 627.1 h-3.6 M1071.1 570.7 h-3.6 M1071.1 514.3 h-3.6 M1071.1 457.9 h-3.6 M1071.1 401.5 h-3.6" stroke="#000" stroke-width="1" fill="none"/>
<g font-size="17.8" text-anchor="middle">
<text x="1071.1" y="702.8">0</text>
<text x="1125.19" y="702.8">5</text>
<text x="1179.29" y="702.8">10</text>
<text x="1233.38" y="702.8">15</text>
<text x="1287.48" y="702.8">20</text>
</g>
<g font-size="17.5" text-anchor="end">
<text x="1064.6" y="689.1">0.0</text>
<text x="1064.6" y="632.98">0.2</text>
<text x="1064.6" y="576.86">0.4</text>
<text x="1064.6" y="520.74">0.6</text>
<text x="1064.6" y="464.62">0.8</text>
<text x="1064.6" y="408.5">1.0</text>
</g>
<rect x="1302.4" y="652.17" width="14" height="31.33" fill="#4b64d5"/>
<rect x="1302.4" y="620.83" width="14" height="31.63" fill="#6f92f3"/>
<rect x="1302.4" y="589.5" width="14" height="31.63" fill="#97b8ff"/>
<rect x="1302.4" y="558.17" width="14" height="31.63" fill="#bcd2f7"/>
<rect x="1302.4" y="526.83" width="14" height="31.63" fill="#dddcdc"/>
<rect x="1302.4" y="495.5" width="14" height="31.63" fill="#f3c8b2"/>
<rect x="1302.4" y="464.17" width="14" height="31.63" fill="#f6a586"/>
<rect x="1302.4" y="432.83" width="14" height="31.63" fill="#e7745b"/>
<rect x="1302.4" y="401.5" width="14" height="31.63" fill="#c83836"/>
<rect x="1302.4" y="401.5" width="14" height="282" fill="none" stroke="#000" stroke-width="1"/>
<g font-size="17.5">
<text x="1322.6" y="689.5">0.987</text>
<text x="1322.6" y="630.23">0.990</text>
<text x="1322.6" y="564.67">0.993</text>
<text x="1322.6" y="502">0.996</text>
<text x="1322.6" y="440.43">0.999</text>
</g>
<path d="M1316.4 683.5 h3.4 M1316.4 652.17 h3.4 M1316.4 620.83 h3.4 M1316.4 589.5 h3.4 M1316.4 558.17 h3.4 M1316.4 526.83 h3.4 M1316.4 495.5 h3.4 M1316.4 464.17 h3.4 M1316.4 432.83 h3.4 M1316.4 401.5 h3.4" stroke="#000" stroke-width="1" fill="none"/>
<text x="1138" y="393.9" font-size="19.6">SSIM Ni</text>
<text x="1032.1" y="391.5" font-size="24.5">j</text>
<text x="1110.8" y="726.4" font-size="19.7">Frequency (Hz)</text>
<text transform="translate(1032 589) rotate(-90)" font-size="19.7">Amplitude</text>
<clipPath id="ck"><rect x="1400.4" y="401.5" width="217.7" height="282"/></clipPath>
<g clip-path="url(#ck)" shape-rendering="geometricPrecision">
<rect x="1400.4" y="401.5" width="217.7" height="282" fill="#b40426"/>
<path d="M1398.4 399.5 L1398.4 669.9 L1411.32 682.34 L1438.11 682.09 L1497.93 681.1 L1547.78 680.47 L1593.89 679.85 L1618.2 679.6 L1620.1 679.6 L1620.1 399.5Z" fill="#d0473d"/>
<path d="M1400.85 399.5 L1400.85 401.5 L1400.85 429.7 L1400.84 457.9 L1400.83 486.1 L1400.82 514.3 L1400.82 542.5 L1400.79 570.7 L1400.77 598.9 L1400.75 627.1 L1400.79 655.3 L1411.3 677.98 L1411.32 677.98 L1429.39 673.62 L1448.08 671.13 L1466.78 669.88 L1479.24 667.39 L1497.93 660.53 L1516.63 654.93 L1525.97 641.47 L1516.63 634.36 L1509.5 628.5 L1502 621 L1493.25 612.88 L1504.5 610.38 L1523.25 608.25 L1542 607 L1567 606.62 L1592 606 L1610.75 605 L1618.5 604.75 L1620.1 604.75 L1620.1 399.5Z" fill="#e57058"/>
<path d="M1402.04 399.5 L1402.04 401.5 L1402.14 429.7 L1402.22 457.9 L1402.31 486.1 L1402.43 514.3 L1402.57 542.5 L1402.68 570.7 L1402.81 598.9 L1403.08 627.1 L1403.87 655.3 L1411.3 674.24 L1411.32 674.24 L1421.29 669.88 L1428.14 667.39 L1435.62 659.91 L1446.21 653.68 L1449.33 644.96 L1450.57 636.23 L1451.38 619.75 L1452 609.75 L1458.25 603.5 L1467 598.5 L1475.75 595.38 L1485.75 594.75 L1498.25 595.75 L1517 596 L1535.75 595.38 L1554.5 595.75 L1573.25 596 L1592 596 L1607 596.62 L1618.5 597.88 L1620.1 597.88 L1620.1 399.5Z" fill="#f39577"/>
<path d="M1403.24 399.5 L1403.24 401.5 L1403.43 429.7 L1403.6 457.9 L1403.79 486.1 L1404.04 514.3 L1404.33 542.5 L1404.57 570.7 L1404.84 598.9 L1405.4 627.1 L1406.96 655.3 L1411.3 669.88 L1411.32 669.88 L1416.93 666.14 L1421.29 658.66 L1425.65 648.69 L1428.14 639.97 L1429.5 638.5 L1432 626 L1433.25 613.5 L1435.75 603.5 L1440.75 596 L1447 588.5 L1454.5 583.5 L1462 580.38 L1472 577.88 L1479.5 576.25 L1492 577.88 L1504.5 579.75 L1517 580.38 L1535.75 579.75 L1554.5 579.75 L1573.25 580 L1592 579.75 L1607 579.75 L1618.5 581.25 L1620.1 581.25 L1620.1 399.5Z" fill="#f7b396"/>
<path d="M1404.43 399.5 L1404.43 401.5 L1404.72 429.7 L1404.99 457.9 L1405.27 486.1 L1405.65 514.3 L1406.09 542.5 L1406.46 570.7 L1406.88 598.9 L1407.72 627.1 L1410.05 655.3 L1411.3 661.62 L1411.38 661.62 L1417 651 L1420.75 638.5 L1423.25 626 L1425.12 611 L1427 598.5 L1432 588.5 L1435.75 582.25 L1440.12 577.88 L1448.25 569.75 L1457 562.25 L1467 557.88 L1477 556.62 L1489.5 557 L1498.25 558.25 L1510.75 558.5 L1529.5 558.25 L1548.25 557.88 L1567 558.5 L1585.75 558.5 L1604.5 558.25 L1618.5 560 L1620.1 560 L1620.1 399.5Z" fill="#f2cbb7"/>
<path d="M1405.63 399.5 L1405.63 401.5 L1406.02 429.7 L1406.37 457.9 L1406.75 486.1 L1407.26 514.3 L1407.85 542.5 L1408.34 570.7 L1408.92 598.9 L1410.05 627.1 L1411.3 646 L1411.38 646 L1414.5 632.25 L1417 613.5 L1418.88 594.75 L1421.38 577.88 L1424.5 571 L1432 562.25 L1442 553.5 L1452 544.75 L1462 536 L1469.5 532.25 L1477 530.38 L1487 530 L1498.25 530.75 L1510.75 531.25 L1523.25 530.75 L1535.75 530 L1550.75 528.75 L1567 529.75 L1585.75 529.75 L1604.5 529.12 L1618.5 530.38 L1620.1 530.38 L1620.1 399.5Z" fill="#e2dad5"/>
<path d="M1406.82 399.5 L1406.82 401.5 L1407.31 429.7 L1407.75 457.9 L1408.23 486.1 L1408.86 514.3 L1409.61 542.5 L1410.23 570.7 L1410.95 598.9 L1411.3 611 L1411.38 611 L1413.25 594.75 L1414.5 577.88 L1417 566 L1421.38 551 L1432 543.5 L1442 533.5 L1450.75 521 L1459.5 509.75 L1469.5 502.25 L1479.5 497.88 L1492 495.38 L1504.5 493.75 L1517 492.25 L1529.5 490.75 L1542 489.12 L1548.25 487.88 L1567 487 L1585.75 486.25 L1604.5 485.75 L1618.5 486.62 L1620.1 486.62 L1620.1 399.5Z" fill="#ccd9ed"/>
<path d="M1408.02 399.5 L1408.02 401.5 L1408.6 429.7 L1409.13 457.9 L1409.71 486.1 L1410.47 514.3 L1411.3 539.75 L1411.38 539.75 L1417 527.25 L1421.38 521.62 L1432 514.12 L1435.75 509.75 L1442 498.5 L1447 491 L1450.75 487.88 L1455.75 479.75 L1462 471 L1469.5 462.25 L1477 456 L1485.75 451 L1498.25 447.25 L1510.75 444.12 L1524.5 440.38 L1539.5 436.62 L1552 433.5 L1564.5 434.5 L1577 433.25 L1592 431.62 L1607 429.12 L1618.5 430.38 L1620.1 430.38 L1620.1 399.5Z" fill="#b3cdfb"/>
<path d="M1409.21 399.5 L1409.21 401.5 L1409.89 429.7 L1410.51 457.9 L1411.19 486.1 L1411.3 490.38 L1411.38 490.38 L1417 487.88 L1421.38 487.25 L1428.25 482.25 L1434.5 474.75 L1439.5 467.25 L1444.5 458.5 L1449.5 448.5 L1454.5 437.25 L1459.5 427.25 L1464.5 417.25 L1469.5 409.75 L1475.75 402.25 L1475.75 399.5Z" fill="#97b8ff"/>
<path d="M1410.4 399.5 L1410.4 401.5 L1411.18 429.7 L1411.3 433.5 L1411.38 433.5 L1421.38 435.75 L1425.75 431 L1430.75 424.75 L1434.5 418.5 L1438.25 409.75 L1441.38 402.25 L1441.38 399.5Z" fill="#7b9ff9"/>
<path d="M1613.25 612.25 L1620.75 612.25 L1620.75 622.25Z" fill="#b40426"/>
</g>
<rect x="1400.4" y="401.5" width="217.7" height="282" fill="none" stroke="#000" stroke-width="1"/>
<path d="M1400.4 683.5 v3.6 M1454.83 683.5 v3.6 M1509.25 683.5 v3.6 M1563.68 683.5 v3.6 M1618.1 683.5 v3.6 M1400.4 683.5 h-1.3 M1400.4 627.1 h-1.3 M1400.4 570.7 h-1.3 M1400.4 514.3 h-1.3 M1400.4 457.9 h-1.3 M1400.4 401.5 h-1.3" stroke="#000" stroke-width="1" fill="none"/>
<g font-size="17.8" text-anchor="middle">
<text x="1400.4" y="702.8">0</text>
<text x="1454.5" y="702.8">5</text>
<text x="1508.59" y="702.8">10</text>
<text x="1562.69" y="702.8">15</text>
<text x="1616.78" y="702.8">20</text>
</g>
<rect x="1631.6" y="657.86" width="14" height="25.64" fill="#7b9ff9"/>
<rect x="1631.6" y="632.23" width="14" height="25.94" fill="#97b8ff"/>
<rect x="1631.6" y="606.59" width="14" height="25.94" fill="#b3cdfb"/>
<rect x="1631.6" y="580.95" width="14" height="25.94" fill="#ccd9ed"/>
<rect x="1631.6" y="555.32" width="14" height="25.94" fill="#e2dad5"/>
<rect x="1631.6" y="529.68" width="14" height="25.94" fill="#f2cbb7"/>
<rect x="1631.6" y="504.05" width="14" height="25.94" fill="#f7b396"/>
<rect x="1631.6" y="478.41" width="14" height="25.94" fill="#f39577"/>
<rect x="1631.6" y="452.77" width="14" height="25.94" fill="#e57058"/>
<rect x="1631.6" y="427.14" width="14" height="25.94" fill="#d0473d"/>
<rect x="1631.6" y="401.5" width="14" height="25.94" fill="#b40426"/>
<rect x="1631.6" y="401.5" width="14" height="282" fill="none" stroke="#000" stroke-width="1"/>
<g font-size="17.5">
<text x="1652.6" y="690">28</text>
<text x="1652.6" y="638.73">36</text>
<text x="1652.6" y="587.45">44</text>
<text x="1652.6" y="536.18">52</text>
<text x="1652.6" y="484.91">60</text>
<text x="1652.6" y="433.64">68</text>
</g>
<path d="M1645.6 683.5 h3.4 M1645.6 632.23 h3.4 M1645.6 580.95 h3.4 M1645.6 529.68 h3.4 M1645.6 478.41 h3.4 M1645.6 427.14 h3.4" stroke="#000" stroke-width="1" fill="none"/>
<text x="1474.7" y="394.5" font-size="19.6">PSNR Ni</text>
<text x="1399.7" y="390.4" font-size="24.5">k</text>
<text x="1442.3" y="726.4" font-size="19.7">Frequency (Hz)</text>
<clipPath id="cl"><rect x="1708.1" y="401.5" width="217.7" height="282"/></clipPath>
<g clip-path="url(#cl)" shape-rendering="geometricPrecision">
<rect x="1708.1" y="401.5" width="217.7" height="282" fill="#4257c9"/>
<path d="M1709.08 399.5 L1709.08 401.5 L1709.2 429.7 L1709.39 457.9 L1709.6 486.1 L1709.88 514.3 L1710.2 542.5 L1710.6 570.7 L1711.3 598.9 L1712.77 627.1 L1716.61 655.3 L1718.6 661.9 L1718.6 661.9 L1721.9 658.1 L1725 650 L1728.1 633.75 L1729.9 614 L1732.5 603 L1735 592.5 L1737.5 580 L1740.75 568.75 L1743.75 563.75 L1752.5 553 L1762.5 541 L1768.75 534.75 L1777.5 526 L1787.5 517.25 L1800 509.75 L1812.5 503.5 L1825 497.88 L1837.5 492.25 L1848.75 487.88 L1862.5 483.5 L1875 479.75 L1887.5 476 L1900 472.25 L1912.5 469.12 L1926.5 466 L1927.8 466 L1927.8 399.5Z" fill="#516ddb"/>
<path d="M1710.06 399.5 L1710.06 401.5 L1710.29 429.7 L1710.68 457.9 L1711.1 486.1 L1711.65 514.3 L1712.29 542.5 L1713.09 570.7 L1714.5 598.9 L1717.44 627.1 L1718.6 633.75 L1718.6 633.75 L1722.5 612.5 L1729.9 575 L1740.75 535 L1762.5 495.8 L1772.9 480.9 L1783.8 465.9 L1794.7 453.7 L1805 445.6 L1812.5 438.5 L1825 428.5 L1837.5 421 L1850 414.75 L1862.5 409.75 L1875 405.38 L1885 402.25 L1885 399.5Z" fill="#6282ea"/>
<path d="M1711.04 399.5 L1711.04 401.5 L1711.39 429.7 L1711.98 457.9 L1712.6 486.1 L1713.43 514.3 L1714.39 542.5 L1715.59 570.7 L1717.71 598.9 L1718.6 607 L1718.6 607 L1729.9 540 L1740.75 502 L1756.6 476.8 L1762.5 466 L1772.9 449.6 L1782.4 434.7 L1792 418.4 L1802.8 401.5 L1802.8 399.5Z" fill="#7295f4"/>
<path d="M1712.03 399.5 L1712.03 401.5 L1712.48 429.7 L1713.27 457.9 L1714.1 486.1 L1715.21 514.3 L1716.48 542.5 L1718.08 570.7 L1718.6 578 L1718.6 578 L1729.9 515 L1740.75 485 L1752 460 L1762.5 438.8 L1770 420 L1778.4 401.5 L1778.4 399.5Z" fill="#84a7fc"/>
<path d="M1713.01 399.5 L1713.01 401.5 L1713.58 429.7 L1714.56 457.9 L1715.6 486.1 L1716.99 514.3 L1718.58 542.5 L1718.6 542.8 L1718.6 542.8 L1729.9 491 L1740.75 464.6 L1752 435 L1762.5 404.5 L1763.4 401.5 L1763.4 399.5Z" fill="#96b7ff"/>
<path d="M1713.99 399.5 L1713.99 401.5 L1714.67 429.7 L1715.85 457.9 L1717.11 486.1 L1718.6 511.4 L1718.6 511.4 L1729.9 470 L1740.75 442.8 L1748 420 L1753.2 401.5 L1753.2 399.5Z" fill="#a7c5fe"/>
<path d="M1714.97 399.5 L1714.97 401.5 L1715.77 429.7 L1717.14 457.9 L1718.6 486 L1718.6 486 L1729.9 451 L1735 435 L1740.75 415.7 L1743.7 401.5 L1743.7 399.5Z" fill="#b9d0f9"/>
<path d="M1715.95 399.5 L1715.95 401.5 L1716.86 429.7 L1718.44 457.9 L1718.6 460.5 L1718.6 460.5 L1724 445 L1729.9 422.5 L1734.2 401.5 L1734.2 399.5Z" fill="#c7d7f0"/>
<path d="M1716.93 399.5 L1716.93 401.5 L1717.96 429.7 L1718.6 440 L1718.6 440 L1722 425 L1725.4 401.5 L1725.4 399.5Z" fill="#d6dce4"/>
<path d="M1717.91 399.5 L1717.91 401.5 L1718.6 422.5 L1718.6 422.5 L1720.6 401.5 L1720.6 399.5Z" fill="#e3d9d3"/>
</g>
<rect x="1708.1" y="401.5" width="217.7" height="282" fill="none" stroke="#000" stroke-width="1"/>
<path d="M1708.1 683.5 v3.6 M1762.52 683.5 v3.6 M1816.95 683.5 v3.6 M1871.38 683.5 v3.6 M1925.8 683.5 v3.6 M1708.1 683.5 h-1.3 M1708.1 627.1 h-1.3 M1708.1 570.7 h-1.3 M1708.1 514.3 h-1.3 M1708.1 457.9 h-1.3 M1708.1 401.5 h-1.3" stroke="#000" stroke-width="1" fill="none"/>
<g font-size="17.8" text-anchor="middle">
<text x="1708.1" y="702.8">0</text>
<text x="1762.19" y="702.8">5</text>
<text x="1816.29" y="702.8">10</text>
<text x="1870.38" y="702.8">15</text>
<text x="1924.48" y="702.8">20</text>
</g>
<rect x="1939.4" y="657.86" width="14" height="25.64" fill="#4257c9"/>
<rect x="1939.4" y="632.23" width="14" height="25.94" fill="#516ddb"/>
<rect x="1939.4" y="606.59" width="14" height="25.94" fill="#6282ea"/>
<rect x="1939.4" y="580.95" width="14" height="25.94" fill="#7295f4"/>
<rect x="1939.4" y="555.32" width="14" height="25.94" fill="#84a7fc"/>
<rect x="1939.4" y="529.68" width="14" height="25.94" fill="#96b7ff"/>
<rect x="1939.4" y="504.05" width="14" height="25.94" fill="#a7c5fe"/>
<rect x="1939.4" y="478.41" width="14" height="25.94" fill="#b9d0f9"/>
<rect x="1939.4" y="452.77" width="14" height="25.94" fill="#c7d7f0"/>
<rect x="1939.4" y="427.14" width="14" height="25.94" fill="#d6dce4"/>
<rect x="1939.4" y="401.5" width="14" height="25.94" fill="#e3d9d3"/>
<rect x="1939.4" y="401.5" width="14" height="282" fill="none" stroke="#000" stroke-width="1"/>
<g font-size="17.5">
<text x="1959.6" y="687.9">0.00</text>
<text x="1959.6" y="638.73">0.01</text>
<text x="1959.6" y="587.45">0.02</text>
<text x="1959.6" y="536.18">0.03</text>
<text x="1959.6" y="484.91">0.04</text>
<text x="1959.6" y="434.24">0.05</text>
</g>
<path d="M1953.4 683.5 h3.4 M1953.4 632.23 h3.4 M1953.4 580.95 h3.4 M1953.4 529.68 h3.4 M1953.4 478.41 h3.4 M1953.4 427.14 h3.4" stroke="#000" stroke-width="1" fill="none"/>
<text x="1784.5" y="394.5" font-size="19.6">PErr Ni</text>
<text x="1711" y="392.3" font-size="24.5">l</text>
<text x="1751.4" y="726.4" font-size="19.7">Frequency (Hz)</text>
</svg>
</body></html>
